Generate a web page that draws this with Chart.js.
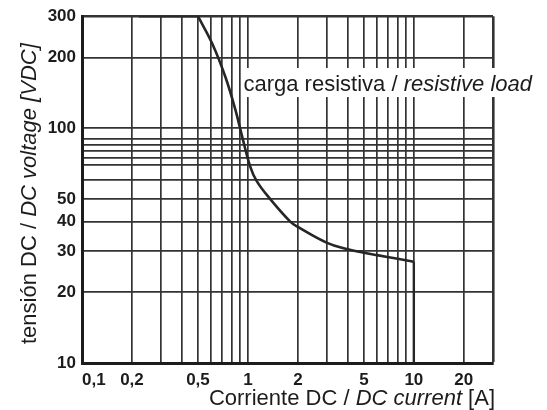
<!DOCTYPE html>
<html>
<head>
<meta charset="utf-8">
<script src="https://cdn.jsdelivr.net/npm/chart.js@4.4.1/dist/chart.umd.min.js"></script>
<style>
  body { margin: 0; background: #fff; }
  #wrap { width: 547px; height: 410px; }
</style>
</head>
<body>
<div id="wrap"><canvas id="grafico" width="547" height="410"></canvas></div>
<script>
// === DATI ===
// tratto piatto a 300 V
const correnteTetto = [0.22, 0.5];
const tensioneTetto = [300, 300];
// curva di carico resistivo
const corrente = [0.5, 0.61, 0.73, 0.84, 0.92, 1.03, 1.13, 1.36, 1.8, 2, 3, 4, 5, 6, 8, 10];
const tensione = [300, 229, 166, 120, 93, 69, 59.5, 50, 40, 38, 32.5, 30.5, 29.5, 28.8, 27.8, 27];
// caduta verticale a 10 A
const correnteFine = [10, 10];
const tensioneFine = [27, 10];

const xGriglia = [0.1, 0.2, 0.3, 0.4, 0.5, 0.6, 0.7, 0.8, 0.9, 1, 2, 3, 4, 5, 6, 7, 8, 9, 10, 20, 30];
const xEtichette = [0.1, 0.2, 0.5, 1, 2, 5, 10, 20];
const yGriglia = [10, 20, 30, 40, 50, 60, 70, 75, 80, 85, 90, 100, 200, 300];
const yEtichette = [10, 20, 30, 40, 50, 100, 200, 300];

const FONT = "'Liberation Sans', Arial, sans-serif";
const GRIGIO = '#333333';
const NERO = '#1c1c1c';
const LINEA = '#262626';

function punti(xs, ys) {
    return xs.map((x, i) => ({ x: x, y: ys[i] }));
}

// === TESTI CON CORSIVO ===
function misura(ctx, pezzi, size) {
    let w = 0;
    pezzi.forEach(p => {
        ctx.font = (p[1] ? 'italic ' : '') + size + 'px ' + FONT;
        w += ctx.measureText(p[0]).width;
    });
    return w;
}
function scrivi(ctx, pezzi, x, y, size) {
    let cx = x;
    pezzi.forEach(p => {
        ctx.font = (p[1] ? 'italic ' : '') + size + 'px ' + FONT;
        ctx.fillText(p[0], cx, y);
        cx += ctx.measureText(p[0]).width;
    });
}

const testiPlugin = {
    id: 'testi',
    beforeDatasetsDraw(chart) {
        // etichetta "carga resistiva" con fondo bianco sopra la griglia
        const ctx = chart.ctx;
        const pezzi = [['carga resistiva / ', false], ['resistive load', true]];
        const x = chart.scales.x.getPixelForValue(0.94);
        const y = chart.scales.y.getPixelForValue(144);
        ctx.save();
        const w = misura(ctx, pezzi, 22);
        ctx.fillStyle = '#fff';
        ctx.fillRect(x - 1, y - 23, w + 5, 29);
        ctx.fillStyle = NERO;
        ctx.textBaseline = 'alphabetic';
        scrivi(ctx, pezzi, x, y, 22);
        ctx.restore();
    },
    afterDraw(chart) {
        const ctx = chart.ctx;
        const area = chart.chartArea;
        ctx.save();
        ctx.fillStyle = NERO;
        ctx.textBaseline = 'alphabetic';
        // titolo asse x
        const px = [['Corriente DC / ', false], ['DC current', true], [' [A]', false]];
        const wx = misura(ctx, px, 22);
        scrivi(ctx, px, area.right + 2 - wx, 405, 22);
        // titolo asse y
        const py = [['tensión DC / ', false], ['DC voltage [VDC]', true]];
        const wy = misura(ctx, py, 22);
        ctx.translate(30, (area.top + area.bottom) / 2 + 4);
        ctx.rotate(-Math.PI / 2);
        ctx.textBaseline = 'middle';
        scrivi(ctx, py, -wy / 2, 0, 22);
        ctx.restore();
    }
};

// === GRAFICO ===
const ctx = document.getElementById('grafico').getContext('2d');
const chart = new Chart(ctx, {
    type: 'scatter',
    data: {
        datasets: [
            {
                data: punti(correnteTetto, tensioneTetto),
                showLine: true,
                borderColor: LINEA,
                borderWidth: 2.6,
                pointRadius: 0
            },
            {
                data: punti(corrente, tensione),
                showLine: true,
                borderColor: LINEA,
                borderWidth: 2.6,
                pointRadius: 0,
                tension: 0.4
            },
            {
                data: punti(correnteFine, tensioneFine),
                showLine: true,
                borderColor: LINEA,
                borderWidth: 2.4,
                pointRadius: 0
            }
        ]
    },
    options: {
        responsive: false,
        animation: false,
        layout: { padding: { left: 0, right: 54, top: 16, bottom: 0 } },
        plugins: {
            legend: { display: false },
            tooltip: { enabled: false }
        },
        scales: {
            x: {
                type: 'logarithmic',
                min: 0.1,
                max: 30,
                afterBuildTicks: s => { s.ticks = xGriglia.map(v => ({ value: v })); },
                afterFit: s => { s.height = 47; },
                grid: {
                    color: GRIGIO,
                    lineWidth: c => (c.tick && c.tick.value === 30 ? 2.6 : 1.7),
                    drawTicks: false
                },
                border: { display: true, color: NERO, width: 3 },
                ticks: {
                    autoSkip: false,
                    maxRotation: 0,
                    padding: 7,
                    color: NERO,
                    font: { family: FONT, size: 17, weight: 'bold' },
                    callback: v => {
                        if (!xEtichette.includes(v)) return '';
                        const t = String(v).replace('.', ',');
                        return v === 0.1 ? '     ' + t : t;
                    }
                }
            },
            y: {
                type: 'logarithmic',
                min: 10,
                max: 300,
                afterBuildTicks: s => { s.ticks = yGriglia.map(v => ({ value: v })); },
                afterFit: s => { s.width = 82; },
                grid: {
                    color: GRIGIO,
                    lineWidth: c => (c.tick && c.tick.value === 300 ? 2.6 : 1.7),
                    drawTicks: false
                },
                border: { display: true, color: NERO, width: 3 },
                ticks: {
                    autoSkip: false,
                    padding: 6,
                    color: NERO,
                    font: { family: FONT, size: 17, weight: 'bold' },
                    callback: v => (yEtichette.includes(v) ? String(v) : '')
                }
            }
        }
    },
    plugins: [testiPlugin]
});
</script>
</body>
</html>
